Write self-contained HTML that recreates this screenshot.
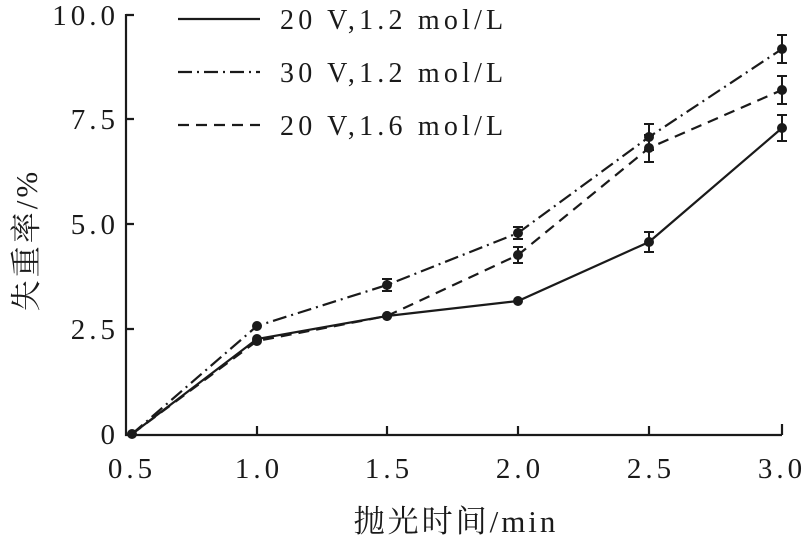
<!DOCTYPE html>
<html><head><meta charset="utf-8"><style>body{margin:0;background:#fff}</style></head><body>
<svg width="809" height="542" viewBox="0 0 809 542" xmlns="http://www.w3.org/2000/svg" font-family="Liberation Serif, Noto Serif CJK SC, serif" fill="#1a1a1a">
<g stroke="#1a1a1a" stroke-width="2.2" fill="none">
<path d="M126 14 V435 H782"/>
<path d="M126 15 h8 M126 119 h8 M126 224 h8 M126 329 h8"/>
<path d="M257 435 v-9 M387 435 v-9 M518 435 v-9 M649 435 v-9 M782 435 v-11"/>
<polyline points="132,434 257,339 387,316 518,301 649,242 782,128"/>
<polyline stroke-dasharray="14,5,2,5" points="132,434 257,326 387,285 518,233 649,137 782,49"/>
<polyline stroke-dasharray="11,7" points="132,434 257,341 387,316 518,255 649,148 782,90"/>
<path stroke-width="2" d="M649 232v20 M644 232h10 M644 252h10 M782 115v26 M777 115h10 M777 141h10 M387 279v12 M382 279h10 M382 291h10 M518 227v12 M513 227h10 M513 239h10 M649 124v26 M644 124h10 M644 150h10 M782 35v28 M777 35h10 M777 63h10 M518 247v16 M513 247h10 M513 263h10 M649 135v27 M644 135h10 M644 162h10 M782 76v28 M777 76h10 M777 104h10"/>
<path d="M178 19h82"/>
<path stroke-dasharray="14,5,2,5" d="M178 72h82"/>
<path stroke-dasharray="11,7" d="M178 125h82"/>
</g>
<g>
<circle cx="132" cy="434" r="5"/>
<circle cx="257" cy="339" r="5"/><circle cx="387" cy="316" r="5"/><circle cx="518" cy="301" r="5"/><circle cx="649" cy="242" r="5"/><circle cx="782" cy="128" r="5"/>
<circle cx="257" cy="326" r="5"/><circle cx="387" cy="285" r="5"/><circle cx="518" cy="233" r="5"/><circle cx="649" cy="137" r="5"/><circle cx="782" cy="49" r="5"/>
<circle cx="257" cy="341" r="5"/><circle cx="387" cy="316" r="5"/><circle cx="518" cy="255" r="5"/><circle cx="649" cy="148" r="5"/><circle cx="782" cy="90" r="5"/>
</g>
<g font-size="29" letter-spacing="4" text-anchor="end">
<text x="119" y="25">10.0</text><text x="119" y="129">7.5</text><text x="119" y="234">5.0</text><text x="119" y="339">2.5</text><text x="119" y="444">0</text>
</g>
<g font-size="29" letter-spacing="4" text-anchor="middle">
<text x="132" y="478">0.5</text><text x="259" y="478">1.0</text><text x="389" y="478">1.5</text><text x="520" y="478">2.0</text><text x="651" y="478">2.5</text><text x="782" y="478">3.0</text>
</g>
<g font-size="31" text-anchor="middle" letter-spacing="3">
<text x="456" y="532">抛光时间/min</text>
<text transform="translate(37,240) rotate(-90)">失重率/%</text>
</g>
<g font-size="28" letter-spacing="4.2">
<text x="280" y="29">20 V,1.2 mol/L</text>
<text x="280" y="82">30 V,1.2 mol/L</text>
<text x="280" y="135">20 V,1.6 mol/L</text>
</g>
</svg>
</body></html>
